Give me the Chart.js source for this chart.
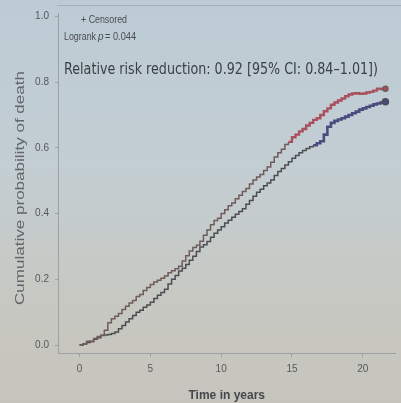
<!DOCTYPE html>
<html>
<head>
<meta charset="utf-8">
<script src="https://cdn.jsdelivr.net/npm/chart.js@4.4.1/dist/chart.umd.min.js"></script>
<style>
  html, body { margin: 0; padding: 0; }
  body {
    width: 401px; height: 403px; overflow: hidden;
    background: linear-gradient(180deg, #bccbd5 0%, #c3ced3 40%, #c7c8c1 75%, #c6c5bd 100%);
  }
</style>
</head>
<body>
<canvas id="km" width="401" height="403"></canvas>
<script>
// Kaplan-Meier style cumulative probability of death, two arms
const years = [0, 0.25, 0.5, 0.75, 1.0, 1.25, 1.5, 1.75, 2.0, 2.25, 2.5, 2.75, 3.0, 3.25, 3.5, 3.75,
  4.0, 4.25, 4.5, 4.75, 5.0, 5.25, 5.5, 5.75, 6.0, 6.25, 6.5, 6.75, 7.0, 7.25, 7.5, 7.75,
  8.0, 8.25, 8.5, 8.75, 9.0, 9.25, 9.5, 9.75, 10.0, 10.25, 10.5, 10.75, 11.0, 11.25, 11.5, 11.75,
  12.0, 12.25, 12.5, 12.75, 13.0, 13.25, 13.5, 13.75, 14.0, 14.25, 14.5, 14.75, 15.0, 15.25, 15.5, 15.75,
  16.0, 16.25, 16.5, 16.75, 17.0, 17.25, 17.5, 17.75, 18.0, 18.25, 18.5, 18.75, 19.0, 19.25, 19.5, 19.75,
  20.0, 20.25, 20.5, 20.75, 21.0, 21.25, 21.6];

const upperProb = [0, 0.004, 0.012, 0.010, 0.020, 0.026, 0.030, 0.045, 0.068, 0.080, 0.088, 0.096, 0.108, 0.118, 0.128, 0.136,
  0.148, 0.154, 0.166, 0.175, 0.184, 0.192, 0.197, 0.203, 0.210, 0.220, 0.226, 0.232, 0.240, 0.256, 0.272, 0.286,
  0.297, 0.304, 0.316, 0.334, 0.350, 0.366, 0.379, 0.386, 0.400, 0.412, 0.424, 0.432, 0.445, 0.456, 0.467, 0.476,
  0.490, 0.502, 0.511, 0.519, 0.531, 0.542, 0.556, 0.572, 0.585, 0.596, 0.610, 0.618, 0.632, 0.640, 0.650, 0.657,
  0.668, 0.676, 0.685, 0.690, 0.700, 0.711, 0.720, 0.731, 0.738, 0.744, 0.750, 0.757, 0.762, 0.765, 0.766, 0.764,
  0.765, 0.768, 0.770, 0.774, 0.780, 0.779, 0.780];

const lowerProb = [0, 0.003, 0.008, 0.012, 0.018, 0.022, 0.029, 0.031, 0.032, 0.035, 0.040, 0.050, 0.060, 0.070, 0.080, 0.090,
  0.100, 0.106, 0.115, 0.122, 0.130, 0.142, 0.152, 0.160, 0.170, 0.186, 0.200, 0.212, 0.225, 0.234, 0.245, 0.258,
  0.270, 0.285, 0.298, 0.305, 0.315, 0.328, 0.340, 0.350, 0.360, 0.371, 0.380, 0.389, 0.398, 0.406, 0.415, 0.428,
  0.440, 0.453, 0.465, 0.474, 0.485, 0.493, 0.502, 0.516, 0.528, 0.537, 0.548, 0.558, 0.568, 0.577, 0.585, 0.592,
  0.598, 0.603, 0.608, 0.614, 0.620, 0.640, 0.664, 0.676, 0.682, 0.686, 0.690, 0.695, 0.700, 0.705, 0.710, 0.716,
  0.720, 0.724, 0.728, 0.732, 0.735, 0.738, 0.740];

const xTicks = [0, 5, 10, 15, 20];
const yTicks = [0.0, 0.2, 0.4, 0.6, 0.8, 1.0];

// censored marks get dense from these years on
const upperCensorFrom = 14.6;
const lowerCensorFrom = 16.4;

const toPoints = (xs, ys) => xs.map((x, i) => ({ x: x, y: ys[i] }));

const narrow = "'Liberation Sans Narrow', 'Liberation Sans', sans-serif";
const tickFont = { family: narrow, size: 10 };

// legend block, relative risk text and the y axis title
const notes = {
  id: 'notes',
  afterDraw(chart) {
    const ctx = chart.ctx;
    ctx.save();
    // faint frame line at the very top
    ctx.strokeStyle = 'rgba(150,160,168,0.6)';
    ctx.lineWidth = 1;
    ctx.beginPath();
    ctx.moveTo(57, 5.5);
    ctx.lineTo(401, 5.5);
    ctx.stroke();

    ctx.fillStyle = '#4a4d52';
    ctx.textBaseline = 'middle';
    ctx.font = '10px ' + narrow;
    ctx.fillText('+ Censored', 81, 20, 46);
    ctx.fillText('Logrank', 64, 37, 32);
    ctx.font = 'italic 10px ' + narrow;
    ctx.fillText('p', 98, 37);
    ctx.font = '10px ' + narrow;
    ctx.fillText('= 0.044', 105, 37, 31);

    ctx.fillStyle = '#3b3e44';
    ctx.font = "16px 'DejaVu Sans', sans-serif";
    ctx.fillText('Relative risk reduction: 0.92 [95% CI: 0.84\u20131.01])', 64, 70, 314);

    // rotated axis title, stretched along the axis
    const title = 'Cumulative probability of death';
    ctx.font = "12px 'Liberation Sans', sans-serif";
    const tw = ctx.measureText(title).width;
    ctx.translate(21, 188);
    ctx.rotate(-Math.PI / 2);
    ctx.scale(234 / tw, 1);
    ctx.fillStyle = '#62666b';
    ctx.textAlign = 'center';
    ctx.fillText(title, 0, 0);
    ctx.restore();
  }
};

new Chart(document.getElementById('km'), {
  type: 'line',
  data: {
    datasets: [{
      label: 'Arm A',
      data: toPoints(years, upperProb),
      borderColor: '#6f5b5a',
      backgroundColor: '#a4505c',
      borderWidth: 1.5,
      stepped: true,
      pointRadius: ctx => ctx.dataIndex === years.length - 1 ? 2.5 : 0,
      segment: {
        borderColor: ctx => ctx.p0.parsed.x >= upperCensorFrom ? '#a8505c' : undefined,
        borderWidth: ctx => ctx.p0.parsed.x >= upperCensorFrom ? 2.4 : undefined
      }
    }, {
      label: 'Arm B',
      data: toPoints(years, lowerProb),
      borderColor: '#4c4d52',
      backgroundColor: '#4a4a7e',
      borderWidth: 1.5,
      stepped: true,
      pointRadius: ctx => ctx.dataIndex === years.length - 1 ? 3 : 0,
      segment: {
        borderColor: ctx => ctx.p0.parsed.x >= lowerCensorFrom ? '#4b4b80' : undefined,
        borderWidth: ctx => ctx.p0.parsed.x >= lowerCensorFrom ? 2.6 : undefined
      }
    }]
  },
  options: {
    responsive: false,
    animation: false,
    layout: { padding: { top: 13, right: 0, left: 0, bottom: 0 } },
    plugins: {
      legend: { display: false },
      tooltip: { enabled: false }
    },
    scales: {
      x: {
        type: 'linear',
        min: -1.52,
        max: 22.31,
        afterBuildTicks: s => { s.ticks = xTicks.map(v => ({ value: v })); },
        afterFit: s => { s.height = 50; },
        grid: { display: true, drawOnChartArea: false, drawTicks: true, tickLength: 4, color: '#9da1a3' },
        border: { display: true, color: '#9da1a3', width: 1 },
        ticks: { color: '#55585c', font: tickFont, padding: 6, maxRotation: 0 },
        title: {
          display: true,
          text: 'Time in years',
          color: '#45484c',
          font: { family: narrow, size: 12, weight: 'bold' },
          padding: { top: 3, bottom: 0 }
        }
      },
      y: {
        min: -0.024,
        max: 1.01,
        afterBuildTicks: s => { s.ticks = yTicks.map(v => ({ value: v })); },
        afterFit: s => { s.width = 58; },
        grid: { display: true, drawOnChartArea: false, drawTicks: true, tickLength: 3, color: '#9da1a3' },
        border: { display: true, color: '#9da1a3', width: 1 },
        ticks: { color: '#55585c', font: tickFont, padding: 6, callback: v => v.toFixed(1) }
      }
    }
  },
  plugins: [notes]
});
</script>
</body>
</html>
